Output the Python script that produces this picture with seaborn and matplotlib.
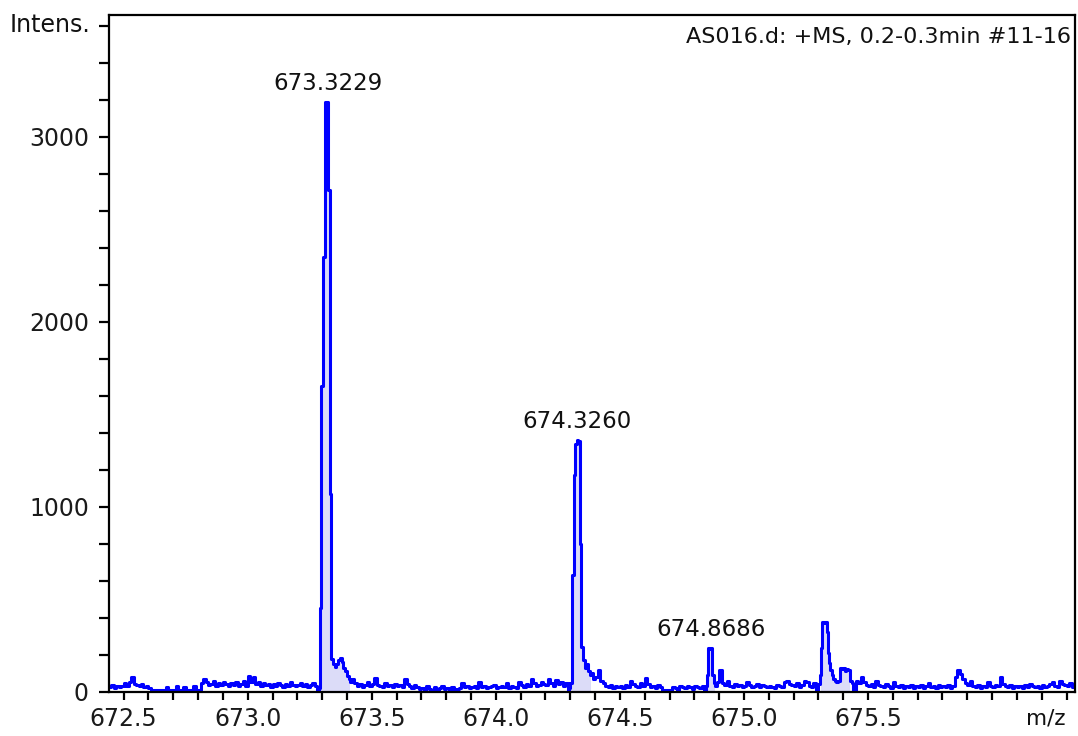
import numpy as np
import pandas as pd
import matplotlib
matplotlib.use("Agg")
import matplotlib.pyplot as plt
import seaborn as sns

# ---------------- data ----------------
# baseline (noise) sampled every 0.01 m/z from 672.44 to 676.33
baseline_start = 672.44
baseline_step = 0.01
baseline_int = [
    25, 35, 20, 30, 25, 30,                                  # 672.44-672.49
    45, 30, 55, 80, 40, 35, 30, 40, 25, 30,                  # 672.50
    20, 8, 8, 8, 8, 8, 8, 25, 8, 8,                          # 672.60
    8, 30, 8, 8, 25, 8, 8, 8, 30, 8,                         # 672.70
    8, 45, 70, 55, 35, 40, 60, 30, 45, 35,                   # 672.80
    50, 40, 30, 45, 35, 55, 30, 40, 60, 30,                  # 672.90
    85, 50, 80, 40, 55, 30, 45, 35, 40, 25,                  # 673.00
    40, 30, 45, 35, 25, 40, 30, 50, 35, 30,                  # 673.10
    35, 45, 30, 40, 25, 35, 45, 30, 8, 0,                    # 673.20
    0, 0, 0, 0, 0, 0, 0, 0, 0, 0,                            # 673.30 (peak)
    0, 0, 70, 45, 30, 40, 25, 35, 55, 30,                    # 673.40
    40, 75, 35, 30, 25, 45, 30, 35, 25, 40,                  # 673.50
    30, 35, 25, 70, 40, 30, 20, 35, 25, 15,                  # 673.60
    20, 10, 30, 15, 8, 25, 10, 20, 30, 15,                   # 673.70
    20, 10, 25, 8, 15, 20, 45, 25, 30, 20,                   # 673.80
    25, 30, 20, 50, 25, 30, 20, 25, 30, 35,                  # 673.90
    20, 25, 30, 25, 45, 20, 30, 25, 20, 55,                  # 674.00
    35, 25, 40, 30, 70, 45, 30, 35, 55, 40,                  # 674.10
    35, 70, 45, 30, 65, 40, 50, 30, 45, 0,                   # 674.20
    0, 0, 0, 0, 0, 0, 0, 0, 0, 0,                            # 674.30 (peak)
    80, 120, 60, 45, 30, 25, 35, 20, 30, 25,                 # 674.40
    30, 20, 35, 25, 60, 40, 30, 25, 45, 30,                  # 674.50
    75, 40, 25, 30, 20, 35, 25, 8, 8, 8,                     # 674.60
    8, 25, 20, 8, 30, 25, 20, 30, 25, 15,                    # 674.70
    30, 25, 20, 30, 0, 0, 0, 0, 0, 0,                        # 674.80 (peak)
    117, 45, 35, 60, 30, 25, 40, 30, 35, 25,                 # 674.90
    30, 55, 35, 25, 30, 40, 25, 35, 30, 25,                  # 675.00
    30, 25, 20, 35, 30, 25, 55, 60, 40, 35,                  # 675.10
    30, 45, 25, 35, 60, 55, 30, 25, 45, 0,                   # 675.20
    0, 0, 0, 0, 0, 0, 0, 0, 0, 0,                            # 675.30 (peak)
    0, 0, 0, 0, 0, 60, 45, 80, 50, 35,                       # 675.40
    30, 40, 25, 60, 35, 30, 25, 40, 30, 20,                  # 675.50
    55, 30, 25, 35, 20, 30, 25, 35, 20, 30,                  # 675.60
    25, 35, 20, 30, 45, 25, 30, 20, 35, 25,                  # 675.70
    30, 25, 35, 20, 30, 80, 117, 95, 70, 45,                 # 675.80
    35, 60, 30, 25, 35, 20, 30, 25, 55, 30,                  # 675.90
    25, 35, 30, 80, 40, 30, 25, 35, 20, 30,                  # 676.00
    25, 30, 20, 35, 25, 40, 30, 25, 30, 20,                  # 676.10
    35, 25, 30, 40, 55, 30, 25, 60, 40, 35,                  # 676.20
    30, 45, 25, 30,                                          # 676.30-676.33
]

# peak 1 (673.3229)
peak1_mz = [673.280, 673.286, 673.290, 673.297, 673.304, 673.310, 673.317,
            673.324, 673.331, 673.334, 673.337, 673.343, 673.350, 673.357,
            673.363, 673.371, 673.378, 673.385, 673.392, 673.400, 673.407,
            673.413]
peak1_int = [8, 20, 450, 1650, 2350, 3190, 3190,
             2710, 1070, 770, 178, 150, 135, 150,
             170, 180, 160, 130, 110, 85, 70,
             55]

# peak 2 (674.3260)
peak2_mz = [674.294, 674.300, 674.306, 674.313, 674.319, 674.326, 674.332,
            674.339, 674.345, 674.352, 674.358, 674.365, 674.371, 674.378,
            674.385, 674.392]
peak2_int = [20, 45, 630, 1170, 1340, 1360, 1355,
             800, 240, 170, 130, 150, 110, 90,
             100, 70]

# peak 3 (674.8686)
peak3_mz = [674.845, 674.851, 674.856, 674.862, 674.868, 674.873, 674.878,
            674.884, 674.890]
peak3_int = [30, 90, 234, 230, 234, 90, 45, 30, 55]

# peak 4 (~675.32)
peak4_mz = [675.300, 675.306, 675.310, 675.315, 675.321, 675.327, 675.333,
            675.337, 675.341, 675.347, 675.353, 675.359, 675.366, 675.372,
            675.380, 675.387, 675.393, 675.400, 675.407, 675.413, 675.420,
            675.427, 675.435]
peak4_int = [40, 90, 236, 378, 370, 378, 324,
             209, 155, 117, 90, 70, 60, 55,
             60, 128, 125, 128, 110, 125, 120,
             60, 45]

peak_labels = ["673.3229", "674.3260", "674.8686"]
peak_label_mz = [673.3229, 674.3260, 674.8686]
peak_label_int = [3190, 1360, 234]

fill_ranges = [(673.285, 673.415), (674.298, 674.388), (674.850, 674.884), (675.309, 675.430)]

title_text = "AS016.d: +MS, 0.2-0.3min #11-16"
y_major = [0, 1000, 2000, 3000]
x_major = [672.5, 673.0, 673.5, 674.0, 674.5, 675.0, 675.5]
x_major_labels = ["672.5", "673.0", "673.5", "674.0", "674.5", "675.0", "675.5"]

# ---------------- assemble spectrum ----------------
base_mz = baseline_start + baseline_step * np.arange(len(baseline_int))
base = pd.DataFrame({"mz": base_mz, "intensity": baseline_int})
peaks = [(peak1_mz, peak1_int), (peak2_mz, peak2_int),
         (peak3_mz, peak3_int), (peak4_mz, peak4_int)]
mask = np.ones(len(base), dtype=bool)
frames = []
for mzs, ints in peaks:
    lo, hi = min(mzs), max(mzs)
    mask &= ~((base["mz"] >= lo - 1e-9) & (base["mz"] <= hi + 1e-9))
    frames.append(pd.DataFrame({"mz": mzs, "intensity": ints}))
spec = pd.concat([base[mask]] + frames).sort_values("mz").reset_index(drop=True)

# ---------------- plot ----------------
sns.set_style("ticks")
plt.rcParams["font.family"] = ["DejaVu Sans"]

fig = plt.figure(figsize=(10.78, 7.36), dpi=100)
ax = fig.add_axes([109 / 1078, 1 - 691.7 / 736, (1075 - 109) / 1078, (691.7 - 15) / 736])

x = spec["mz"].to_numpy()
y = spec["intensity"].to_numpy()
for lo, hi in fill_ranges:
    w = (x >= lo) & (x <= hi)
    ax.fill_between(x, 0, y, where=w, step="post", color="#DCDCF8", linewidth=0, zorder=1)

sns.lineplot(data=spec, x="mz", y="intensity", ax=ax, color="#0000FF",
             linewidth=2.2, drawstyle="steps-post", estimator=None, sort=True, zorder=2)

ax.set_xlim(672.441, 676.334)
ax.set_ylim(0, 3658)
ax.set_xlabel("")
ax.set_ylabel("")

ax.set_yticks(y_major)
ax.set_yticklabels([str(v) for v in y_major])
ax.set_yticks(np.arange(0, 3658, 200), minor=True)
ax.set_xticks(x_major)
ax.set_xticklabels(x_major_labels)
ax.set_xticks(np.arange(672.5, 676.31, 0.1), minor=True)

for s in ax.spines.values():
    s.set_visible(True)
    s.set_linewidth(1.6)
    s.set_color("black")

ax.tick_params(axis="y", which="both", direction="out", length=7.5, width=1.6, color="black")
ax.tick_params(axis="x", which="both", direction="out", length=6, width=1.6, color="black")
ax.tick_params(axis="both", which="major", labelsize=17, colors="black")
ax.tick_params(axis="y", which="major", pad=7)
ax.tick_params(axis="x", which="major", pad=5)
for lab in ax.get_xticklabels() + ax.get_yticklabels():
    lab.set_color("#1a1a1a")

# peak labels
for txt, mz, inten in zip(peak_labels, peak_label_mz, peak_label_int):
    ax.annotate(txt, xy=(mz, inten), xytext=(0, 5), textcoords="offset points",
                ha="center", va="bottom", fontsize=16.5, color="#111111")

ax.text(0.9955, 0.983, title_text, transform=ax.transAxes, ha="right", va="top",
        fontsize=16, color="#111111")

# axis titles
fig.text(10 / 1078, 1 - 25 / 736, "Intens.", ha="left", va="center", fontsize=17, color="#111111")
fig.text(1046 / 1078, 1 - 718 / 736, "m/z", ha="center", va="center", fontsize=15.5, color="#111111")

fig.savefig("out.png", dpi=100)
